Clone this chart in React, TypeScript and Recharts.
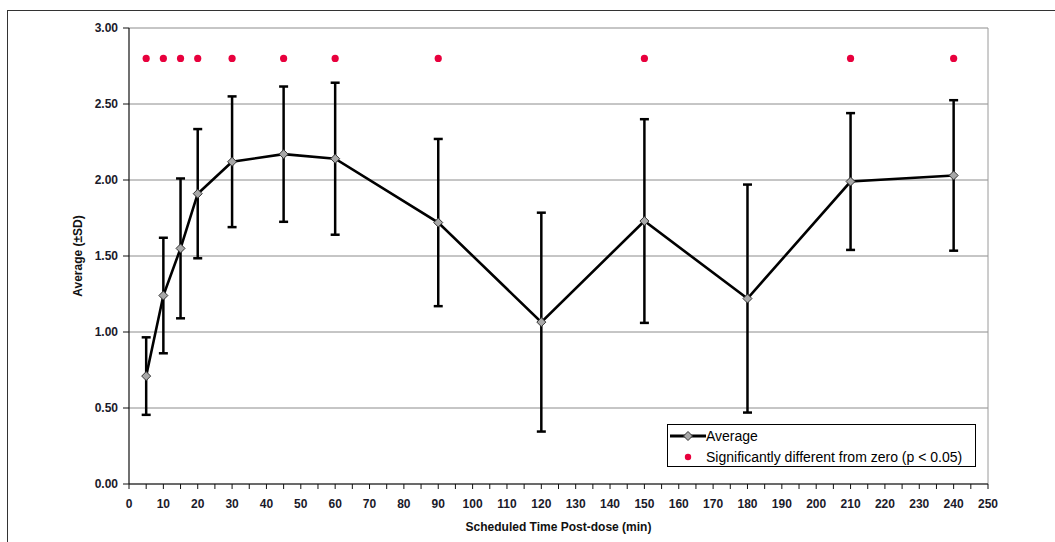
import React from 'react';
import {
  ComposedChart,
  Line,
  Scatter,
  ErrorBar,
  XAxis,
  YAxis,
  CartesianGrid,
  ReferenceLine,
  Legend,
} from 'recharts';

const times = [5, 10, 15, 20, 30, 45, 60, 90, 120, 150, 180, 210, 240];
const averages = [0.71, 1.24, 1.55, 1.91, 2.12, 2.17, 2.14, 1.72, 1.065, 1.73, 1.22, 1.99, 2.03];
const sds = [0.255, 0.38, 0.46, 0.425, 0.43, 0.445, 0.5, 0.55, 0.72, 0.67, 0.75, 0.45, 0.495];
const significantTimes = [5, 10, 15, 20, 30, 45, 60, 90, 150, 210, 240];
const significanceMarker = 2.8;
const xTicks = Array.from({ length: 51 }, (_, i) => i * 5);
const yTicks = [0, 0.5, 1, 1.5, 2, 2.5, 3];

const avgData = times.map((t, i) => ({ time: t, average: averages[i], sd: sds[i] }));
const sigData = significantTimes.map((t) => ({ time: t, level: significanceMarker }));

const font = 'Arial, "Liberation Sans", sans-serif';
const sigColor = '#e8003d';

const Diamond = (props: any) => {
  const { cx, cy } = props;
  if (cx == null || cy == null) return null;
  const r = 4.5;
  return (
    <polygon
      points={`${cx},${cy - r} ${cx + r},${cy} ${cx},${cy + r} ${cx - r},${cy}`}
      fill="#a8a8a8"
      stroke="#333"
      strokeWidth={1}
    />
  );
};

const SigDot = (props: any) => {
  const { cx, cy } = props;
  if (cx == null || cy == null) return null;
  return <circle cx={cx} cy={cy} r={3.6} fill={sigColor} />;
};

const LegendBox = () => (
  <div
    style={{
      position: 'relative',
      width: 309,
      height: 43,
      border: '1px solid #000',
      boxSizing: 'border-box',
      background: '#fff',
      fontFamily: font,
      fontSize: 14,
      color: '#000',
    }}
  >
    <svg style={{ position: 'absolute', left: 1, top: 4 }} width={38} height={14}>
      <line x1={1} y1={7} x2={37} y2={7} stroke="#000" strokeWidth={3} />
      <polygon points="19,2.5 23.5,7 19,11.5 14.5,7" fill="#a8a8a8" stroke="#333" strokeWidth={1} />
    </svg>
    <span style={{ position: 'absolute', left: 38, top: 3, lineHeight: '16px', whiteSpace: 'nowrap' }}>Average</span>
    <svg style={{ position: 'absolute', left: 13, top: 25 }} width={14} height={14}>
      <circle cx={7} cy={7} r={3.2} fill={sigColor} />
    </svg>
    <span style={{ position: 'absolute', left: 38, top: 24, lineHeight: '16px', whiteSpace: 'nowrap' }}>
      Significantly different from zero (p &lt; 0.05)
    </span>
  </div>
);

const YTitle = (props: any) => {
  const { viewBox } = props;
  const cy = viewBox.y + viewBox.height / 2;
  const cx = 78;
  return (
    <text
      x={cx}
      y={cy}
      transform={`rotate(-90 ${cx} ${cy})`}
      textAnchor="middle"
      dominantBaseline="central"
      fontFamily={font}
      fontSize={12}
      fontWeight="bold"
      fill="#111"
    >
      Average (±SD)
    </text>
  );
};

const XTitle = (props: any) => {
  const { viewBox } = props;
  const cx = viewBox.x + viewBox.width / 2;
  return (
    <text x={cx} y={531} textAnchor="middle" fontFamily={font} fontSize={12} fontWeight="bold" fill="#111">
      Scheduled Time Post-dose (min)
    </text>
  );
};

const tickStyle = { fontFamily: font, fontSize: 12, fontWeight: 700, fill: '#1a1a2a' };

export default function App() {
  return (
    <div
      style={{
        position: 'absolute',
        left: 0,
        top: 0,
        width: 1055,
        height: 542,
        overflow: 'hidden',
        background: '#fff',
      }}
    >
      <div
        style={{
          position: 'absolute',
          left: 7,
          top: 10,
          width: 1100,
          height: 600,
          border: '1.5px solid #333',
        }}
      />
      <ComposedChart
        width={1055}
        height={542}
        margin={{ top: 28, right: 67, left: 0, bottom: 0 }}
        style={{ position: 'absolute', left: 0, top: 0 }}
      >
        <CartesianGrid horizontal vertical={false} stroke="#8c8c8c" strokeWidth={1} />
        <ReferenceLine x={250} stroke="#9a9a9a" strokeWidth={1} />
        <XAxis
          type="number"
          dataKey="time"
          domain={[0, 250]}
          ticks={xTicks}
          interval={0}
          tickFormatter={(v: number) => (v % 10 === 0 ? String(v) : '')}
          height={58}
          axisLine={{ stroke: '#111', strokeWidth: 1.2 }}
          tickLine={{ stroke: '#111' }}
          tickSize={5}
          tickMargin={10}
          tick={tickStyle}
          allowDataOverflow
          label={<XTitle />}
        />
        <YAxis
          type="number"
          domain={[0, 3]}
          ticks={yTicks}
          interval={0}
          tickFormatter={(v: number) => v.toFixed(2)}
          width={129}
          axisLine={{ stroke: '#111', strokeWidth: 1.2 }}
          tickLine={{ stroke: '#111' }}
          tickSize={6}
          tickMargin={5}
          tick={tickStyle}
          allowDataOverflow
          label={<YTitle />}
        />
        <Line
          data={avgData}
          dataKey="average"
          name="Average"
          type="linear"
          stroke="#000"
          strokeWidth={2.6}
          dot={<Diamond />}
          activeDot={false}
          isAnimationActive={false}
        >
          <ErrorBar dataKey="sd" direction="y" width={4.5} stroke="#000" strokeWidth={2.5} />
        </Line>
        <Scatter
          data={sigData}
          dataKey="level"
          name="Significantly different from zero (p < 0.05)"
          shape={<SigDot />}
          isAnimationActive={false}
        />
        <Legend
          layout="vertical"
          align="center"
          verticalAlign="middle"
          content={<LegendBox />}
          wrapperStyle={{ left: 667, top: 424, width: 309 }}
        />
      </ComposedChart>
    </div>
  );
}
